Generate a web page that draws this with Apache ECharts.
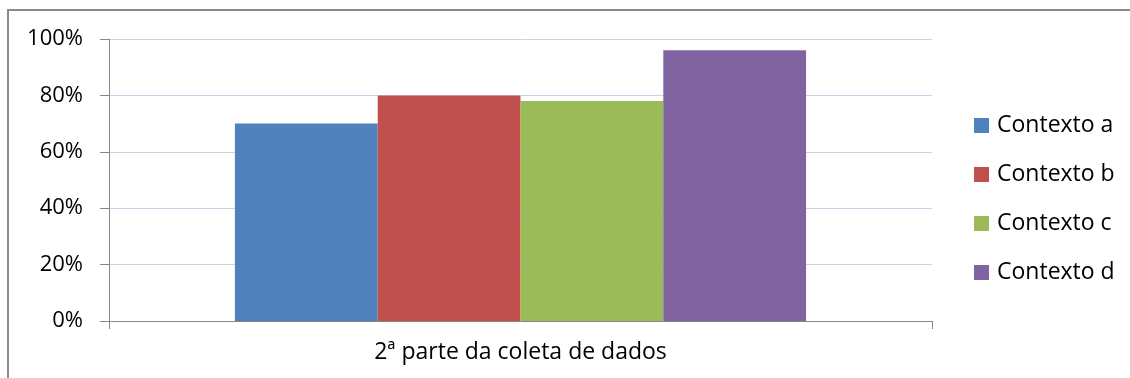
<!DOCTYPE html>
<html>
<head>
<meta charset="utf-8">
<script src="https://cdn.jsdelivr.net/npm/echarts@6/dist/echarts.min.js"></script>
<style>
  html, body { margin: 0; padding: 0; background: #fff; }
  #chart { width: 1130px; height: 378px; }
</style>
</head>
<body>
<div id="chart"></div>
<script>
// Share of responses per context, second round of data collection
const categories = ['2ª parte da coleta de dados'];
const seriesNames = ['Contexto a', 'Contexto b', 'Contexto c', 'Contexto d'];
const contextoA = [70];
const contextoB = [80];
const contextoC = [78];
const contextoD = [96];
const yTicks = [0, 20, 40, 60, 80, 100];

const colors = ['#4f81bd', '#c0504d', '#9bbb59', '#8064a2'];
const valueSets = [contextoA, contextoB, contextoC, contextoD];
const FONT = '"Open Sans", sans-serif';

const chart = echarts.init(document.getElementById('chart'), null, { renderer: 'canvas' });

chart.setOption({
  animation: false,
  backgroundColor: '#ffffff',
  textStyle: { fontFamily: FONT },
  graphic: [{
    type: 'rect',
    shape: { x: 8, y: 10, width: 1300, height: 600 },
    style: { fill: 'none', stroke: '#8a8a8a', lineWidth: 2 },
    silent: true,
    z: -1
  }],
  grid: { left: 109, right: 198, top: 39, bottom: 57 },
  legend: {
    orient: 'vertical',
    left: 974,
    top: 114,
    padding: 0,
    itemWidth: 15,
    itemHeight: 15,
    itemGap: 26,
    icon: 'rect',
    data: seriesNames,
    textStyle: { fontFamily: FONT, fontSize: 23, color: '#000', lineHeight: 23, padding: [0, 0, 0, 3] }
  },
  xAxis: {
    type: 'category',
    data: categories,
    boundaryGap: true,
    axisLine: { lineStyle: { color: '#868686', width: 1 } },
    axisTick: { show: true, length: 8, alignWithLabel: false, lineStyle: { color: '#868686' } },
    axisLabel: { fontFamily: FONT, fontSize: 23, color: '#000', margin: 20 }
  },
  yAxis: {
    type: 'value',
    min: yTicks[0],
    max: yTicks[yTicks.length - 1],
    interval: yTicks[1] - yTicks[0],
    axisLine: { show: true, lineStyle: { color: '#868686', width: 1 } },
    axisTick: { show: true, length: 9, lineStyle: { color: '#868686' } },
    axisLabel: { fontFamily: FONT, fontSize: 22, color: '#000', margin: 26, formatter: '{value}%' },
    splitLine: { lineStyle: { color: '#c6d4ee', width: 1 } }
  },
  series: seriesNames.map((name, i) => ({
    name: name,
    type: 'bar',
    data: valueSets[i],
    barGap: '0%',
    barCategoryGap: '30.6%',
    itemStyle: { color: colors[i] }
  }))
});
</script>
</body>
</html>
